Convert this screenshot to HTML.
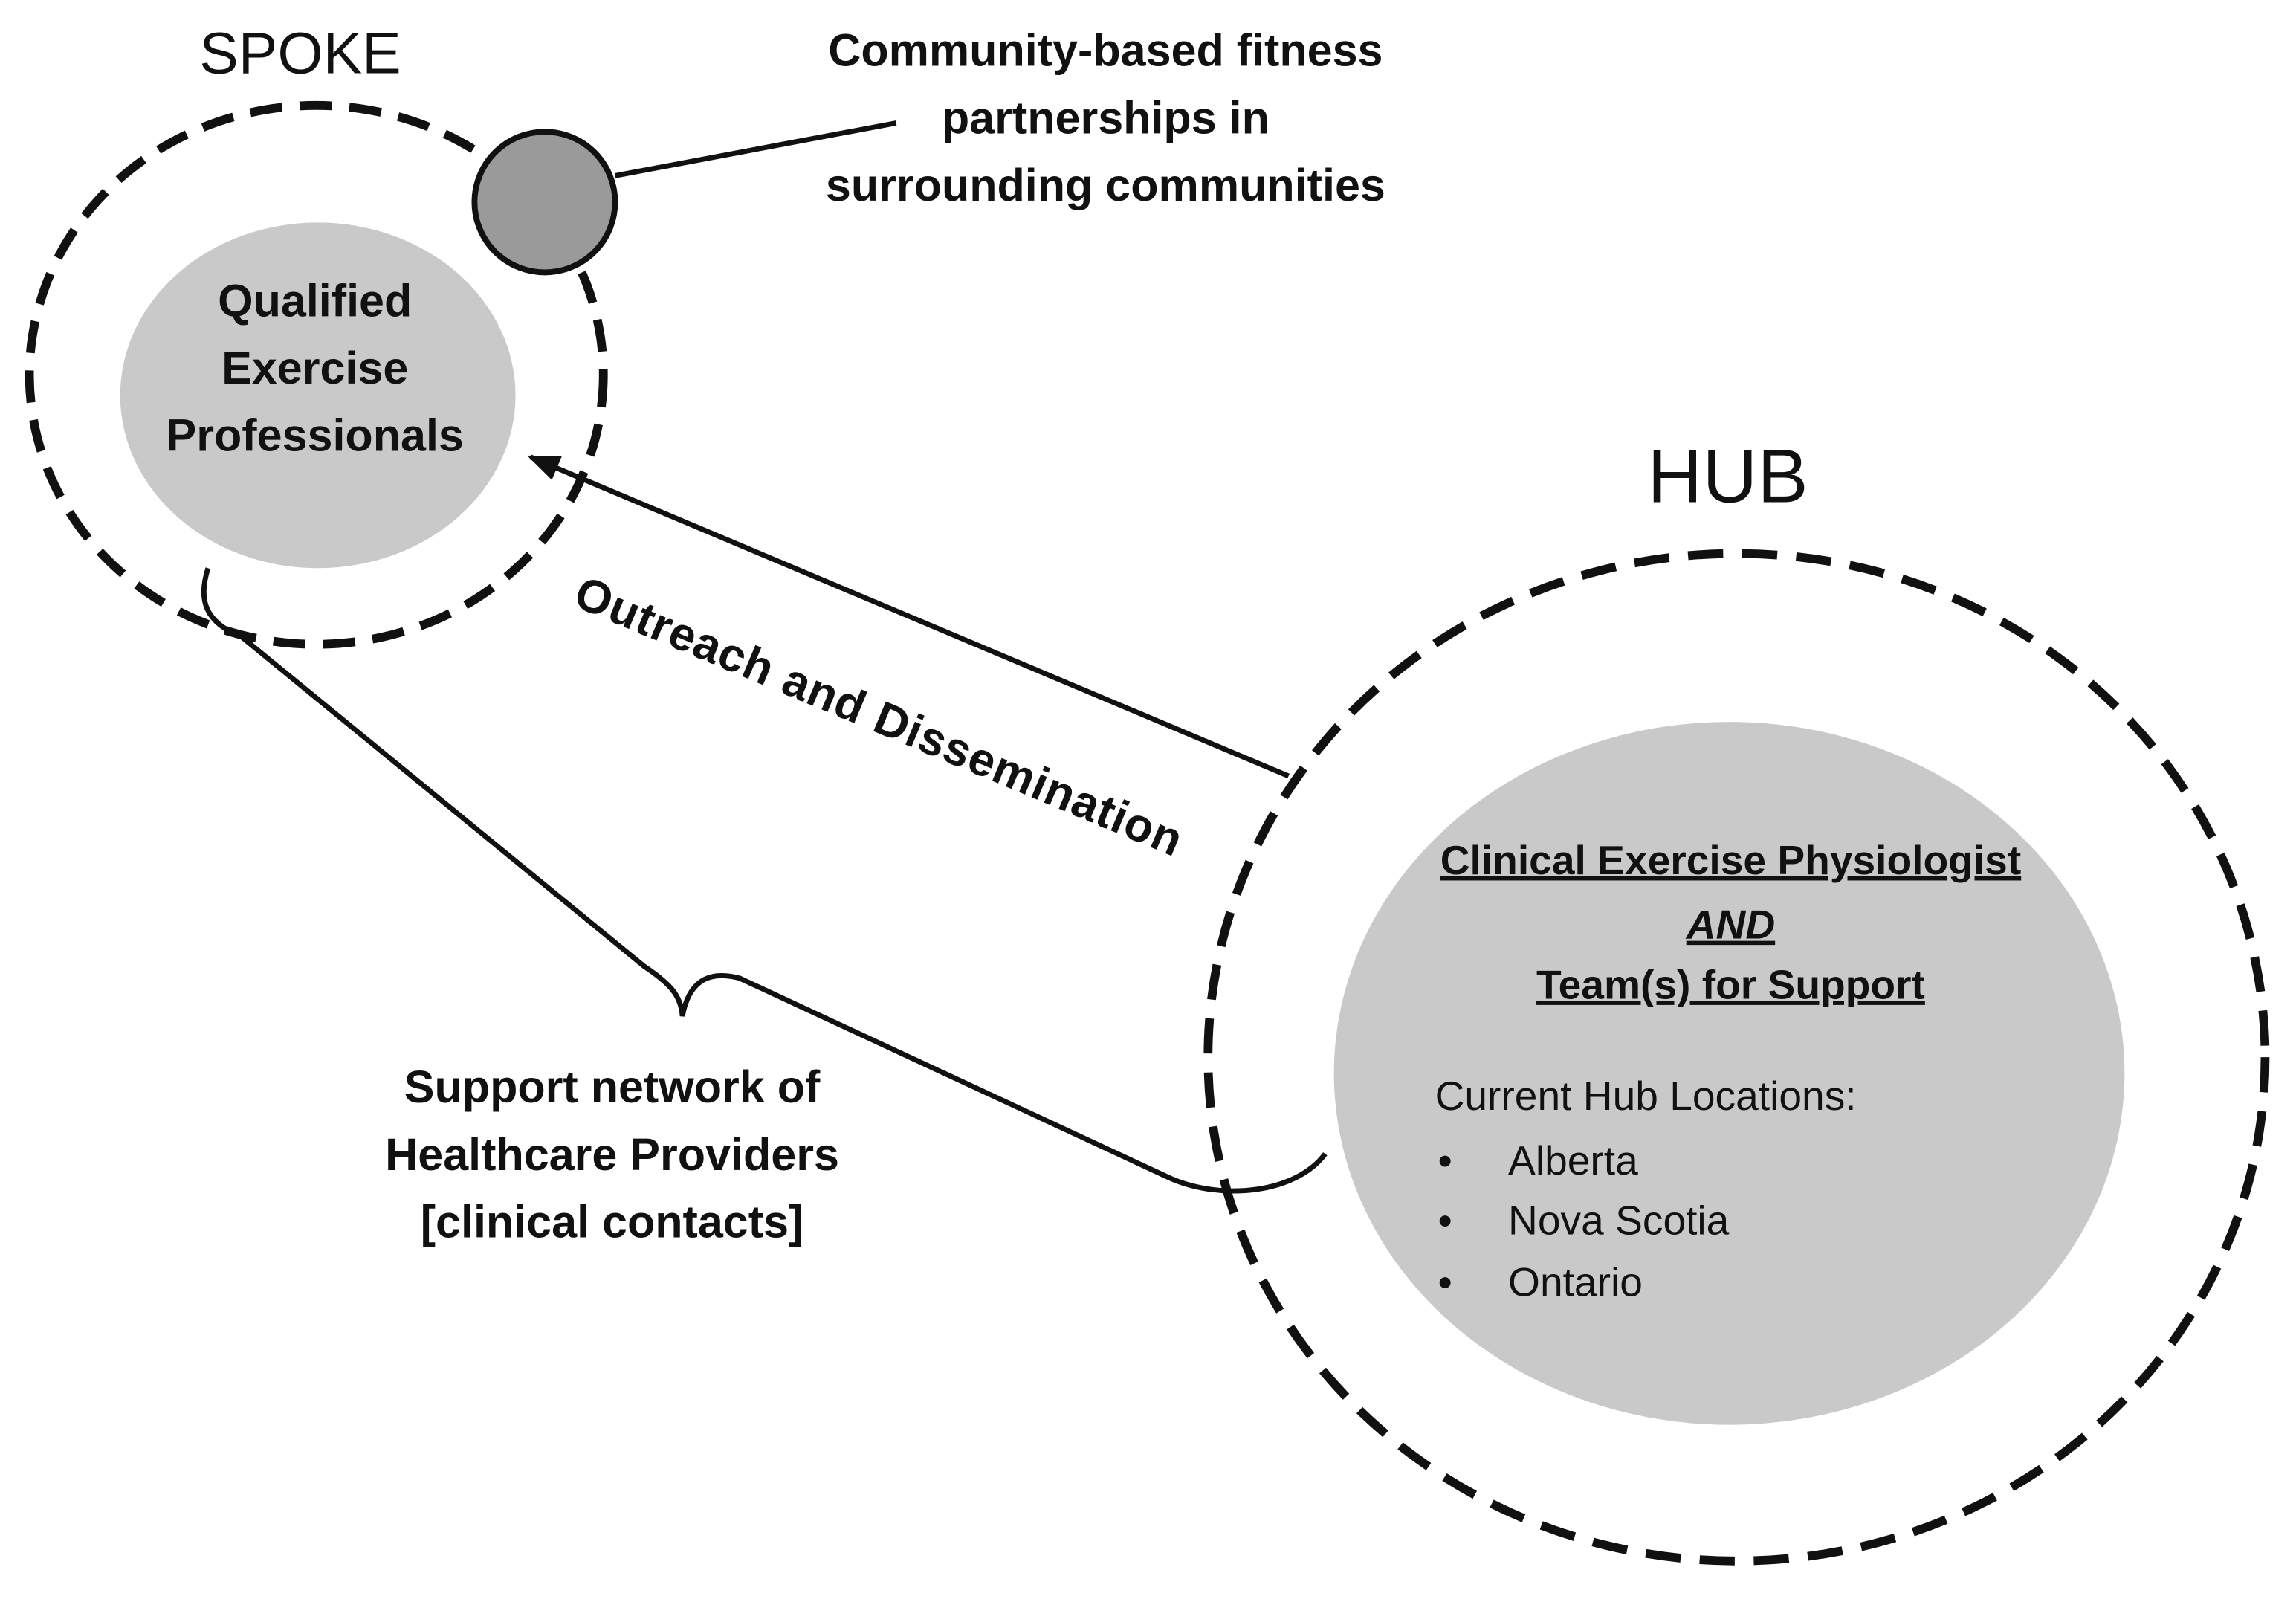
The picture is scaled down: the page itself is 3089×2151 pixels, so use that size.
<!DOCTYPE html>
<html><head><meta charset="utf-8"><style>
html,body{margin:0;padding:0;background:#fff;}
svg{display:block;}
text{font-family:"Liberation Sans","DejaVu Sans",sans-serif;fill:#111;}
.b{font-weight:bold;font-size:31px;}
</style></head><body>
<svg width="3089" height="2151" viewBox="0 0 1568 1092" xmlns="http://www.w3.org/2000/svg">
<defs>
<marker id="ah2" viewBox="0 0 20 16" markerWidth="22" markerHeight="18" refX="18" refY="8" orient="auto" markerUnits="userSpaceOnUse"><path d="M0,0 L20,8 L0,16 z" fill="#111"/></marker></defs>
<text x="205" y="50" font-size="40" text-anchor="middle">SPOKE</text>
<ellipse cx="216" cy="256" rx="196" ry="184" fill="none" stroke="#111" stroke-width="6" stroke-dasharray="22,12"/>
<ellipse cx="217" cy="270" rx="135" ry="118" fill="#c9c9c9"/>
<text class="b" x="215" y="216" text-anchor="middle">Qualified</text>
<text class="b" x="215" y="262" text-anchor="middle">Exercise</text>
<text class="b" x="215" y="308" text-anchor="middle">Professionals</text>
<line x1="420" y1="120" x2="612" y2="84" stroke="#111" stroke-width="3.5"/>
<circle cx="372" cy="138" r="48" fill="#9a9a9a" stroke="#111" stroke-width="4"/>
<text class="b" x="755" y="45" text-anchor="middle">Community-based fitness</text>
<text class="b" x="755" y="91" text-anchor="middle">partnerships in</text>
<text class="b" x="755" y="137" text-anchor="middle">surrounding communities</text>
<text x="1180" y="343" font-size="52" text-anchor="middle">HUB</text>
<ellipse cx="1186" cy="722" rx="361" ry="344" fill="none" stroke="#111" stroke-width="6" stroke-dasharray="24,13"/>
<ellipse cx="1181" cy="733" rx="270" ry="240" fill="#c9c9c9"/>
<line x1="880" y1="530" x2="362" y2="312" stroke="#111" stroke-width="3.5" marker-end="url(#ah2)"/>
<text font-weight="bold" font-size="32" letter-spacing="0.5" x="600" y="500" text-anchor="middle" transform="rotate(22.7 600 490)">Outreach and Dissemination</text>
<path d="M142,388 C135,410 140,425 165,435 L440,660 C458,672 465,680 466,694 C470,672 482,662 505,668 L800,805 C835,820 885,815 905,788" fill="none" stroke="#111" stroke-width="3.5"/>
<text class="b" x="418" y="753" text-anchor="middle">Support network of</text>
<text class="b" x="418" y="799" text-anchor="middle">Healthcare Providers</text>
<text class="b" x="418" y="845" text-anchor="middle">[clinical contacts]</text>
<g font-weight="bold" font-size="28" text-anchor="middle">
<text x="1182" y="597" text-decoration="underline">Clinical Exercise Physiologist</text>
<text x="1182" y="641" font-style="italic" text-decoration="underline">AND</text>
<text x="1182" y="682" text-decoration="underline">Team(s) for Support</text>
</g>
<g font-size="28">
<text x="980" y="758">Current Hub Locations:</text>
<text x="982" y="802">•</text><text x="1030" y="802">Alberta</text>
<text x="982" y="843">•</text><text x="1030" y="843">Nova Scotia</text>
<text x="982" y="885">•</text><text x="1030" y="885">Ontario</text>
</g>
</svg>
</body></html>
